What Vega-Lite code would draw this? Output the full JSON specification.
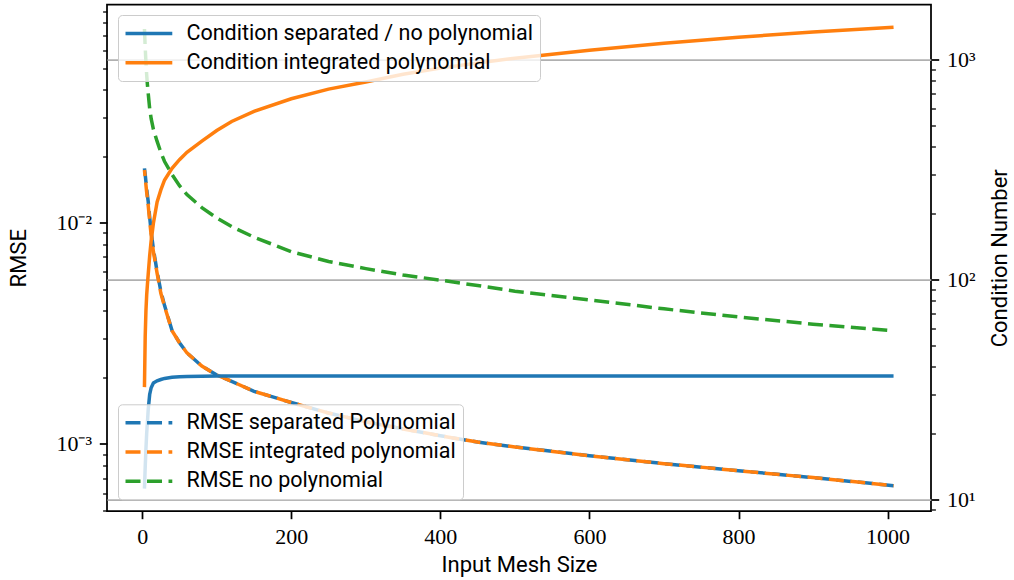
{
  "$schema": "https://vega.github.io/schema/vega-lite/v6.json",
  "width": 824,
  "height": 506.5,
  "autosize": {"type": "none"},
  "padding": {"left": 107, "top": 4.5, "right": 83, "bottom": 69},
  "background": "white",
  "config": {
    "view": {"stroke": "black", "strokeWidth": 1.75},
    "axis": {
      "domain": false,
      "grid": false,
      "tickColor": "black",
      "labelColor": "black",
      "labelFont": "Liberation Serif",
      "labelFontSize": 22,
      "titleFont": "Roboto",
      "titleFontSize": 22,
      "titleFontWeight": "normal",
      "titleColor": "black",
      "labelOverlap": false,
      "labelFlush": false,
      "labelBound": false
    }
  },
  "datasets": {
    "cond": [
      {"size": 3, "series": "Condition separated / no polynomial", "cond": 11.2},
      {"size": 4, "series": "Condition separated / no polynomial", "cond": 14.0},
      {"size": 5, "series": "Condition separated / no polynomial", "cond": 17.0},
      {"size": 6, "series": "Condition separated / no polynomial", "cond": 20.0},
      {"size": 7, "series": "Condition separated / no polynomial", "cond": 22.5},
      {"size": 8, "series": "Condition separated / no polynomial", "cond": 25.5},
      {"size": 10, "series": "Condition separated / no polynomial", "cond": 30.0},
      {"size": 12, "series": "Condition separated / no polynomial", "cond": 32.2},
      {"size": 15, "series": "Condition separated / no polynomial", "cond": 33.8},
      {"size": 20, "series": "Condition separated / no polynomial", "cond": 34.6},
      {"size": 25, "series": "Condition separated / no polynomial", "cond": 35.1},
      {"size": 30, "series": "Condition separated / no polynomial", "cond": 35.5},
      {"size": 40, "series": "Condition separated / no polynomial", "cond": 35.9},
      {"size": 50, "series": "Condition separated / no polynomial", "cond": 36.1},
      {"size": 60, "series": "Condition separated / no polynomial", "cond": 36.2},
      {"size": 80, "series": "Condition separated / no polynomial", "cond": 36.3},
      {"size": 100, "series": "Condition separated / no polynomial", "cond": 36.4},
      {"size": 200, "series": "Condition separated / no polynomial", "cond": 36.4},
      {"size": 400, "series": "Condition separated / no polynomial", "cond": 36.4},
      {"size": 600, "series": "Condition separated / no polynomial", "cond": 36.4},
      {"size": 800, "series": "Condition separated / no polynomial", "cond": 36.4},
      {"size": 1008, "series": "Condition separated / no polynomial", "cond": 36.4},
      {"size": 3, "series": "Condition integrated polynomial", "cond": 32.4},
      {"size": 4, "series": "Condition integrated polynomial", "cond": 55},
      {"size": 5, "series": "Condition integrated polynomial", "cond": 72},
      {"size": 6, "series": "Condition integrated polynomial", "cond": 85},
      {"size": 7, "series": "Condition integrated polynomial", "cond": 95},
      {"size": 8, "series": "Condition integrated polynomial", "cond": 105},
      {"size": 10, "series": "Condition integrated polynomial", "cond": 128},
      {"size": 12, "series": "Condition integrated polynomial", "cond": 150},
      {"size": 15, "series": "Condition integrated polynomial", "cond": 180},
      {"size": 20, "series": "Condition integrated polynomial", "cond": 225},
      {"size": 25, "series": "Condition integrated polynomial", "cond": 255},
      {"size": 30, "series": "Condition integrated polynomial", "cond": 283},
      {"size": 40, "series": "Condition integrated polynomial", "cond": 320},
      {"size": 50, "series": "Condition integrated polynomial", "cond": 350},
      {"size": 60, "series": "Condition integrated polynomial", "cond": 378},
      {"size": 80, "series": "Condition integrated polynomial", "cond": 425},
      {"size": 100, "series": "Condition integrated polynomial", "cond": 475},
      {"size": 120, "series": "Condition integrated polynomial", "cond": 522},
      {"size": 150, "series": "Condition integrated polynomial", "cond": 580},
      {"size": 200, "series": "Condition integrated polynomial", "cond": 662},
      {"size": 250, "series": "Condition integrated polynomial", "cond": 732},
      {"size": 300, "series": "Condition integrated polynomial", "cond": 788},
      {"size": 350, "series": "Condition integrated polynomial", "cond": 855},
      {"size": 400, "series": "Condition integrated polynomial", "cond": 912},
      {"size": 450, "series": "Condition integrated polynomial", "cond": 963},
      {"size": 500, "series": "Condition integrated polynomial", "cond": 1012},
      {"size": 600, "series": "Condition integrated polynomial", "cond": 1100},
      {"size": 700, "series": "Condition integrated polynomial", "cond": 1183},
      {"size": 800, "series": "Condition integrated polynomial", "cond": 1260},
      {"size": 900, "series": "Condition integrated polynomial", "cond": 1332},
      {"size": 1008, "series": "Condition integrated polynomial", "cond": 1398}
    ],
    "rmse": [
      {"size": 3, "series": "RMSE separated Polynomial", "rmse": 0.0176},
      {"size": 4, "series": "RMSE separated Polynomial", "rmse": 0.0165},
      {"size": 5, "series": "RMSE separated Polynomial", "rmse": 0.0153},
      {"size": 6, "series": "RMSE separated Polynomial", "rmse": 0.0142},
      {"size": 7, "series": "RMSE separated Polynomial", "rmse": 0.0133},
      {"size": 8, "series": "RMSE separated Polynomial", "rmse": 0.0125},
      {"size": 10, "series": "RMSE separated Polynomial", "rmse": 0.0106},
      {"size": 12, "series": "RMSE separated Polynomial", "rmse": 0.0091},
      {"size": 15, "series": "RMSE separated Polynomial", "rmse": 0.0076},
      {"size": 20, "series": "RMSE separated Polynomial", "rmse": 0.0060},
      {"size": 25, "series": "RMSE separated Polynomial", "rmse": 0.0049},
      {"size": 30, "series": "RMSE separated Polynomial", "rmse": 0.00422},
      {"size": 40, "series": "RMSE separated Polynomial", "rmse": 0.00326},
      {"size": 50, "series": "RMSE separated Polynomial", "rmse": 0.00287},
      {"size": 60, "series": "RMSE separated Polynomial", "rmse": 0.00258},
      {"size": 80, "series": "RMSE separated Polynomial", "rmse": 0.00225},
      {"size": 100, "series": "RMSE separated Polynomial", "rmse": 0.00205},
      {"size": 120, "series": "RMSE separated Polynomial", "rmse": 0.00192},
      {"size": 150, "series": "RMSE separated Polynomial", "rmse": 0.00173},
      {"size": 200, "series": "RMSE separated Polynomial", "rmse": 0.00154},
      {"size": 250, "series": "RMSE separated Polynomial", "rmse": 0.00138},
      {"size": 300, "series": "RMSE separated Polynomial", "rmse": 0.00126},
      {"size": 350, "series": "RMSE separated Polynomial", "rmse": 0.00117},
      {"size": 400, "series": "RMSE separated Polynomial", "rmse": 0.00109},
      {"size": 450, "series": "RMSE separated Polynomial", "rmse": 0.00102},
      {"size": 500, "series": "RMSE separated Polynomial", "rmse": 0.00097},
      {"size": 600, "series": "RMSE separated Polynomial", "rmse": 0.000885},
      {"size": 700, "series": "RMSE separated Polynomial", "rmse": 0.000815},
      {"size": 800, "series": "RMSE separated Polynomial", "rmse": 0.000757},
      {"size": 900, "series": "RMSE separated Polynomial", "rmse": 0.000705},
      {"size": 1008, "series": "RMSE separated Polynomial", "rmse": 0.000648},
      {"size": 3, "series": "RMSE integrated polynomial", "rmse": 0.0173},
      {"size": 4, "series": "RMSE integrated polynomial", "rmse": 0.0160},
      {"size": 5, "series": "RMSE integrated polynomial", "rmse": 0.0148},
      {"size": 6, "series": "RMSE integrated polynomial", "rmse": 0.0137},
      {"size": 7, "series": "RMSE integrated polynomial", "rmse": 0.0128},
      {"size": 8, "series": "RMSE integrated polynomial", "rmse": 0.0120},
      {"size": 10, "series": "RMSE integrated polynomial", "rmse": 0.0102},
      {"size": 12, "series": "RMSE integrated polynomial", "rmse": 0.0088},
      {"size": 15, "series": "RMSE integrated polynomial", "rmse": 0.0074},
      {"size": 20, "series": "RMSE integrated polynomial", "rmse": 0.0059},
      {"size": 25, "series": "RMSE integrated polynomial", "rmse": 0.0048},
      {"size": 30, "series": "RMSE integrated polynomial", "rmse": 0.00418},
      {"size": 40, "series": "RMSE integrated polynomial", "rmse": 0.00325},
      {"size": 50, "series": "RMSE integrated polynomial", "rmse": 0.00287},
      {"size": 60, "series": "RMSE integrated polynomial", "rmse": 0.00258},
      {"size": 80, "series": "RMSE integrated polynomial", "rmse": 0.00225},
      {"size": 100, "series": "RMSE integrated polynomial", "rmse": 0.00205},
      {"size": 120, "series": "RMSE integrated polynomial", "rmse": 0.00192},
      {"size": 150, "series": "RMSE integrated polynomial", "rmse": 0.00173},
      {"size": 200, "series": "RMSE integrated polynomial", "rmse": 0.00154},
      {"size": 250, "series": "RMSE integrated polynomial", "rmse": 0.00138},
      {"size": 300, "series": "RMSE integrated polynomial", "rmse": 0.00126},
      {"size": 350, "series": "RMSE integrated polynomial", "rmse": 0.00117},
      {"size": 400, "series": "RMSE integrated polynomial", "rmse": 0.00109},
      {"size": 450, "series": "RMSE integrated polynomial", "rmse": 0.00102},
      {"size": 500, "series": "RMSE integrated polynomial", "rmse": 0.00097},
      {"size": 600, "series": "RMSE integrated polynomial", "rmse": 0.000885},
      {"size": 700, "series": "RMSE integrated polynomial", "rmse": 0.000815},
      {"size": 800, "series": "RMSE integrated polynomial", "rmse": 0.000757},
      {"size": 900, "series": "RMSE integrated polynomial", "rmse": 0.000705},
      {"size": 1008, "series": "RMSE integrated polynomial", "rmse": 0.000648},
      {"size": 3, "series": "RMSE no polynomial", "rmse": 0.075},
      {"size": 4, "series": "RMSE no polynomial", "rmse": 0.062},
      {"size": 5, "series": "RMSE no polynomial", "rmse": 0.053},
      {"size": 6, "series": "RMSE no polynomial", "rmse": 0.0465},
      {"size": 7, "series": "RMSE no polynomial", "rmse": 0.042},
      {"size": 8, "series": "RMSE no polynomial", "rmse": 0.0385},
      {"size": 10, "series": "RMSE no polynomial", "rmse": 0.0328},
      {"size": 12, "series": "RMSE no polynomial", "rmse": 0.0295},
      {"size": 15, "series": "RMSE no polynomial", "rmse": 0.0264},
      {"size": 20, "series": "RMSE no polynomial", "rmse": 0.0233},
      {"size": 25, "series": "RMSE no polynomial", "rmse": 0.0208},
      {"size": 30, "series": "RMSE no polynomial", "rmse": 0.0189},
      {"size": 40, "series": "RMSE no polynomial", "rmse": 0.0165},
      {"size": 50, "series": "RMSE no polynomial", "rmse": 0.0147},
      {"size": 60, "series": "RMSE no polynomial", "rmse": 0.0134},
      {"size": 80, "series": "RMSE no polynomial", "rmse": 0.0117},
      {"size": 100, "series": "RMSE no polynomial", "rmse": 0.0105},
      {"size": 120, "series": "RMSE no polynomial", "rmse": 0.0096},
      {"size": 150, "series": "RMSE no polynomial", "rmse": 0.0086},
      {"size": 200, "series": "RMSE no polynomial", "rmse": 0.0074},
      {"size": 250, "series": "RMSE no polynomial", "rmse": 0.00668},
      {"size": 300, "series": "RMSE no polynomial", "rmse": 0.0062},
      {"size": 350, "series": "RMSE no polynomial", "rmse": 0.0058},
      {"size": 400, "series": "RMSE no polynomial", "rmse": 0.0055},
      {"size": 450, "series": "RMSE no polynomial", "rmse": 0.0052},
      {"size": 500, "series": "RMSE no polynomial", "rmse": 0.0049},
      {"size": 600, "series": "RMSE no polynomial", "rmse": 0.00448},
      {"size": 700, "series": "RMSE no polynomial", "rmse": 0.00408},
      {"size": 800, "series": "RMSE no polynomial", "rmse": 0.00375},
      {"size": 900, "series": "RMSE no polynomial", "rmse": 0.00348},
      {"size": 1008, "series": "RMSE no polynomial", "rmse": 0.00325}
    ]
  },
  "layer": [
    {
      "data": {"name": "rmse"},
      "encoding": {
        "x": {
          "field": "size",
          "type": "quantitative",
          "scale": {"domain": [-47.25, 1058.25], "nice": false, "zero": false},
          "axis": {
            "title": "Input Mesh Size",
            "values": [0, 200, 400, 600, 800, 1000],
            "format": "d",
            "tickSize": 7.7,
            "tickWidth": 1.75,
            "labelPadding": 7.7,
            "titlePadding": 7
          }
        },
        "y": {
          "field": "rmse",
          "type": "quantitative",
          "scale": {"type": "log", "domain": [0.000498, 0.09683], "nice": false, "zero": false},
          "axis": {
            "orient": "left",
            "title": "RMSE",
            "titlePadding": 26,
            "values": [0.0005, 0.0006, 0.0007, 0.0008, 0.0009, 0.001, 0.002, 0.003, 0.004, 0.005, 0.006, 0.007, 0.008, 0.009, 0.01, 0.02, 0.03, 0.04, 0.05, 0.06, 0.07, 0.08, 0.09],
            "labelExpr": "datum.value == 0.001 ? '10⁻³' : datum.value == 0.01 ? '10⁻²' : ''",
            "tickSize": {"condition": {"test": "datum.value == 0.001 || datum.value == 0.01", "value": 7.7}, "value": 4.4},
            "tickWidth": {"condition": {"test": "datum.value == 0.001 || datum.value == 0.01", "value": 1.75}, "value": 1.3},
            "labelPadding": 7.7
          }
        },
        "stroke": {
          "field": "series",
          "type": "nominal",
          "scale": {
            "domain": ["RMSE separated Polynomial", "RMSE integrated polynomial", "RMSE no polynomial"],
            "range": ["#1f77b4", "#ff7f0e", "#2ca02c"]
          },
          "legend": {
            "orient": "none",
            "legendX": 11,
            "legendY": 399.8,
            "title": null,
            "symbolType": "M-2.5,0H2.5",
            "symbolSize": 350,
            "symbolOffset": 12.4,
            "symbolStrokeWidth": 3.5,
            "symbolDash": [15, 6.5],
            "labelFont": "Roboto",
            "labelFontSize": 21.5,
            "labelColor": "black",
            "labelLimit": 1000,
            "labelOffset": 26,
            "rowPadding": 7.25,
            "padding": 7,
            "fillColor": "rgba(255,255,255,0.8)",
            "strokeColor": "#cccccc",
            "cornerRadius": 4
          }
        }
      },
      "layer": [
        {
          "transform": [{"filter": "datum.series == 'RMSE separated Polynomial'"}],
          "mark": {"type": "line", "strokeWidth": 3.5, "strokeDash": [15, 6.5]}
        },
        {
          "transform": [{"filter": "datum.series == 'RMSE integrated polynomial'"}],
          "mark": {"type": "line", "strokeWidth": 3.5, "strokeDash": [15, 6.5], "strokeDashOffset": 9}
        },
        {
          "transform": [{"filter": "datum.series == 'RMSE no polynomial'"}],
          "mark": {"type": "line", "strokeWidth": 3.5, "strokeDash": [15, 6.5]}
        }
      ]
    },
    {
      "data": {"name": "cond"},
      "mark": {"type": "line", "strokeWidth": 3.5},
      "encoding": {
        "x": {"field": "size", "type": "quantitative"},
        "y": {
          "field": "cond",
          "type": "quantitative",
          "scale": {"type": "log", "domain": [8.867, 1774.4], "nice": false, "zero": false},
          "axis": {
            "orient": "right",
            "title": "Condition Number",
            "titleAngle": 270,
            "titleBaseline": "top",
            "titlePadding": 15,
            "values": [9, 10, 20, 30, 40, 50, 60, 70, 80, 90, 100, 200, 300, 400, 500, 600, 700, 800, 900, 1000],
            "labelExpr": "datum.value == 10 ? '10¹' : datum.value == 100 ? '10²' : datum.value == 1000 ? '10³' : ''",
            "tickSize": {"condition": {"test": "datum.value == 10 || datum.value == 100 || datum.value == 1000", "value": 7.7}, "value": 4.4},
            "tickWidth": {"condition": {"test": "datum.value == 10 || datum.value == 100 || datum.value == 1000", "value": 1.75}, "value": 1.3},
            "labelPadding": 7.7,
            "grid": true,
            "gridColor": "#b0b0b0",
            "gridWidth": 1.75,
            "gridOpacity": {"condition": {"test": "datum.value == 10 || datum.value == 100 || datum.value == 1000", "value": 1}, "value": 0}
          }
        },
        "color": {
          "field": "series",
          "type": "nominal",
          "scale": {
            "domain": ["Condition separated / no polynomial", "Condition integrated polynomial"],
            "range": ["#1f77b4", "#ff7f0e"]
          },
          "legend": {
            "orient": "none",
            "legendX": 11,
            "legendY": 10.5,
            "title": null,
            "symbolType": "M-2.5,0H2.5",
            "symbolSize": 350,
            "symbolOffset": 12.4,
            "symbolStrokeWidth": 3.5,
            "labelFont": "Roboto",
            "labelFontSize": 21.5,
            "labelColor": "black",
            "labelLimit": 1000,
            "labelOffset": 26,
            "rowPadding": 7.25,
            "padding": 7,
            "fillColor": "rgba(255,255,255,0.8)",
            "strokeColor": "#cccccc",
            "cornerRadius": 4
          }
        }
      }
    }
  ],
  "resolve": {"scale": {"y": "independent"}}
}
